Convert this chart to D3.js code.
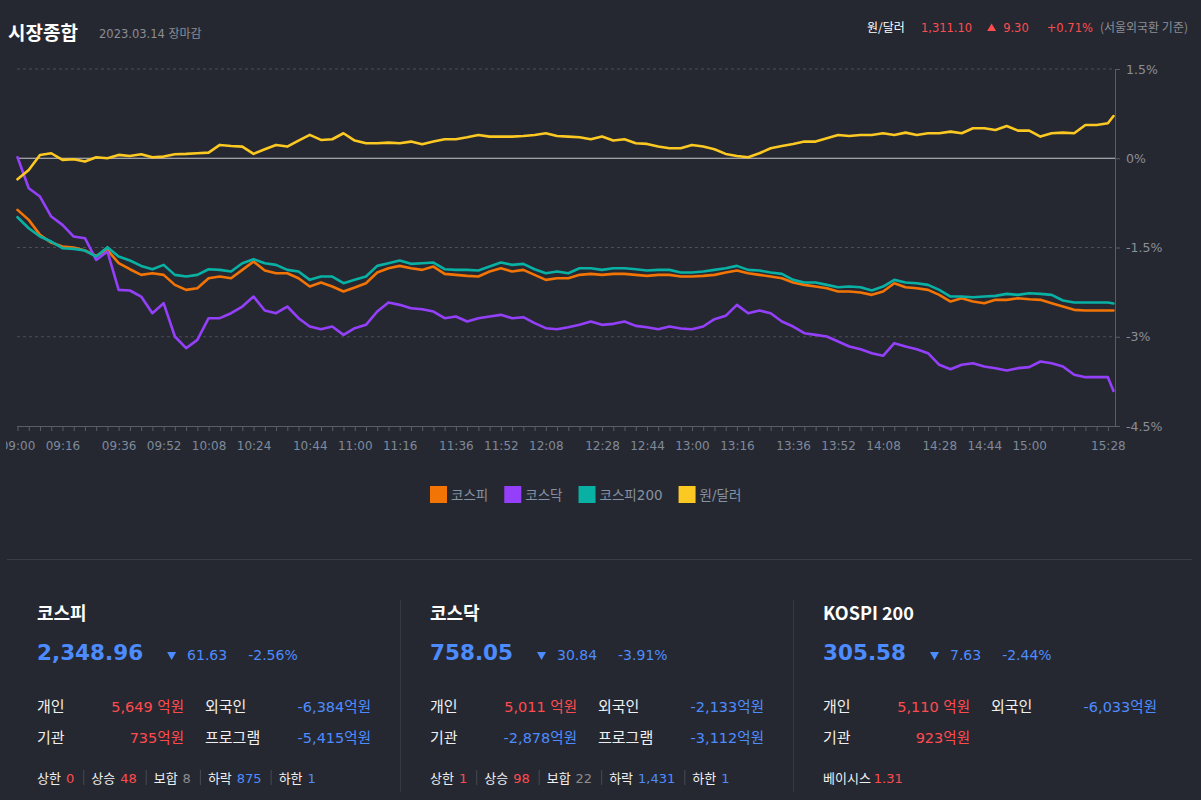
<!DOCTYPE html>
<html><head><meta charset="utf-8">
<script src="https://cdn.jsdelivr.net/npm/d3@7"></script>
<style>
html,body{margin:0;padding:0;background:#262831;}
svg{display:block}
text{font-family:'DejaVu Sans','Noto Sans CJK KR',sans-serif;}
.kr{font-family:'Noto Sans CJK KR',sans-serif;}
</style></head><body>
<svg id="c" width="1201" height="800"></svg>
<script>
// ---------- data ----------
const times = [
"09:00","09:04","09:08","09:12","09:16","09:20","09:24","09:28","09:32","09:36","09:40","09:44","09:48","09:52","09:56",
"10:00","10:04","10:08","10:12","10:16","10:20","10:24","10:28","10:32","10:36","10:40","10:44","10:48","10:52","10:56",
"11:00","11:04","11:08","11:12","11:16","11:20","11:24","11:28","11:32","11:36","11:40","11:44","11:48","11:52","11:56",
"12:00","12:04","12:08","12:12","12:16","12:20","12:24","12:28","12:32","12:36","12:40","12:44","12:48","12:52","12:56",
"13:00","13:04","13:08","13:12","13:16","13:20","13:24","13:28","13:32","13:36","13:40","13:44","13:48","13:52","13:56",
"14:00","14:04","14:08","14:12","14:16","14:20","14:24","14:28","14:32","14:36","14:40","14:44","14:48","14:52","14:56",
"15:00","15:04","15:08","15:12","15:16","15:20","15:24","15:28","15:30"];

const kospi = [-0.868,-1.036,-1.288,-1.417,-1.484,-1.501,-1.551,-1.641,-1.54,-1.764,-1.865,-1.96,-1.932,-1.96,-2.128,-2.212,-2.184,-2.016,-1.988,-2.016,-1.876,-1.736,-1.887,-1.932,-1.932,-2.016,-2.156,-2.089,-2.156,-2.24,-2.173,-2.1,-1.921,
-1.848,-1.809,-1.848,-1.876,-1.82,-1.943,-1.96,-1.977,-1.988,-1.904,-1.848,-1.904,-1.876,-1.96,-2.044,-2.016,-2.016,-1.96,-1.943,-1.96,-1.943,-1.943,-1.96,-1.977,-1.96,-1.96,-1.988,-1.988,-1.977,-1.96,-1.921,-1.887,-1.932,
-1.96,-1.988,-2.016,-2.089,-2.128,-2.156,-2.184,-2.24,-2.24,-2.257,-2.296,-2.24,-2.1,-2.167,-2.184,-2.212,-2.296,-2.408,-2.352,-2.408,-2.436,-2.38,-2.38,-2.352,-2.369,-2.38,-2.436,-2.492,-2.548,-2.559,-2.559,-2.559,-2.56];

const kosdaq = [0.017,-0.504,-0.644,-0.98,-1.12,-1.316,-1.344,-1.708,-1.568,-2.212,-2.223,-2.324,-2.604,-2.436,-2.996,-3.192,-3.052,-2.688,-2.688,-2.604,-2.492,-2.324,-2.559,-2.604,-2.492,-2.688,-2.828,-2.873,-2.828,-2.968,-2.856,-2.8,-2.576,
-2.425,-2.464,-2.52,-2.537,-2.576,-2.688,-2.66,-2.744,-2.688,-2.66,-2.632,-2.688,-2.671,-2.772,-2.856,-2.873,-2.839,-2.8,-2.744,-2.8,-2.783,-2.744,-2.817,-2.839,-2.873,-2.828,-2.862,-2.873,-2.828,-2.705,-2.649,-2.464,-2.604,
-2.559,-2.604,-2.744,-2.828,-2.94,-2.968,-2.996,-3.08,-3.164,-3.209,-3.276,-3.32,-3.108,-3.164,-3.209,-3.276,-3.472,-3.545,-3.472,-3.444,-3.5,-3.528,-3.567,-3.528,-3.511,-3.416,-3.444,-3.5,-3.64,-3.679,-3.679,-3.679,-3.91];

const kospi200 = [-0.991,-1.176,-1.316,-1.4,-1.512,-1.523,-1.551,-1.652,-1.495,-1.652,-1.719,-1.809,-1.865,-1.792,-1.96,-1.988,-1.96,-1.865,-1.876,-1.904,-1.764,-1.697,-1.764,-1.792,-1.876,-1.904,-2.044,-1.988,-1.988,-2.1,-2.044,-1.988,-1.809,
-1.764,-1.719,-1.775,-1.764,-1.753,-1.865,-1.876,-1.876,-1.887,-1.82,-1.753,-1.792,-1.775,-1.865,-1.932,-1.904,-1.932,-1.848,-1.848,-1.876,-1.848,-1.848,-1.865,-1.887,-1.876,-1.876,-1.921,-1.921,-1.904,-1.876,-1.848,-1.809,-1.876,
-1.887,-1.921,-1.943,-2.044,-2.089,-2.089,-2.128,-2.167,-2.156,-2.167,-2.223,-2.156,-2.044,-2.089,-2.1,-2.128,-2.212,-2.324,-2.324,-2.335,-2.324,-2.313,-2.279,-2.296,-2.268,-2.279,-2.296,-2.391,-2.425,-2.425,-2.425,-2.425,-2.44];

const usdkrw = [-0.353,-0.196,0.056,0.084,-0.028,-0.017,-0.056,0.017,0,0.056,0.039,0.067,0.017,0.028,0.067,0.073,0.084,0.095,0.224,0.207,0.196,0.073,0.151,0.224,0.196,0.297,0.392,0.308,0.319,0.42,0.297,0.252,0.252,
0.263,0.252,0.28,0.235,0.28,0.319,0.319,0.353,0.392,0.364,0.364,0.364,0.375,0.392,0.42,0.375,0.364,0.353,0.319,0.364,0.297,0.319,0.252,0.241,0.196,0.168,0.168,0.224,0.196,0.151,0.073,0.039,0.017,
0.084,0.168,0.207,0.241,0.28,0.28,0.336,0.392,0.375,0.392,0.392,0.42,0.392,0.431,0.392,0.42,0.42,0.448,0.42,0.504,0.504,0.476,0.543,0.465,0.465,0.364,0.42,0.431,0.42,0.56,0.56,0.588,0.71];

const xTickLabels = ["09:00","09:16","09:36","09:52","10:08","10:24","10:44","11:00","11:16","11:36","11:52","12:08","12:28","12:44","13:00","13:16","13:36","13:52","14:08","14:28","14:44","15:00","15:28"];
const yTicks = [1.5, 0, -1.5, -3, -4.5];

const seriesNames = ["코스피","코스닥","코스피200","원/달러"];
const seriesColors = ["#f27405","#9440fa","#08b1a4","#fcc822"];

const headerFx = {label:"원/달러", value:"1,311.10", change:"9.30", pct:"+0.71%", note:"(서울외국환 기준)"};

const panelTitles = ["코스피","코스닥","KOSPI 200"];
const panelValues = ["2,348.96","758.05","305.58"];
const panelChanges = ["61.63","30.84","7.63"];
const panelPcts = ["-2.56%","-3.91%","-2.44%"];
const panelRows = [
  [["개인","5,649 억원","up"],["외국인","-6,384억원","down"],["기관","735억원","up"],["프로그램","-5,415억원","down"]],
  [["개인","5,011 억원","up"],["외국인","-2,133억원","down"],["기관","-2,878억원","down"],["프로그램","-3,112억원","down"]],
  [["개인","5,110 억원","up"],["외국인","-6,033억원","down"],["기관","923억원","up"]]
];
const panelFoot = [
  [["상한","0","up"],["상승","48","up"],["보합","8","flat"],["하락","875","down"],["하한","1","down"]],
  [["상한","1","up"],["상승","98","up"],["보합","22","flat"],["하락","1,431","down"],["하한","1","down"]],
  [["베이시스","1.31","up"]]
];

// ---------- styles ----------
const RED = "#ff4b4e", BLUE = "#4d8cff", GRAY = "#8a8d95";
const tone = {up:RED, down:BLUE, flat:"#8d8d8d"};

const svg = d3.select("#c");
const toMin = t => { const [h,m] = t.split(":").map(Number); return (h-9)*60+m; };

const x = d3.scaleLinear().domain([0, 390]).range([17.5, 1113.5]);
const y = d3.scaleLinear().domain([-4.5, 1.5]).range([426, 69]);
const plotL = 17, plotR = 1115;

// header
svg.append("text").attr("class","kr").attr("x",8).attr("y",40).attr("font-size",19).attr("font-weight","bold").attr("fill","#fff").text("시장종합");
svg.append("text").attr("x",99).attr("y",38).attr("font-size",11.5).attr("fill",GRAY)
  .call(t=>{t.append("tspan").text("2023.03.14 "); t.append("tspan").attr("class","kr").attr("font-size",12).text("장마감");});

// header right (laid out sequentially, right aligned to 1188)
const hg = svg.append("g");
let hx = 0;
function hText(txt, cls, size, color, gapAfter){
  const t = hg.append("text").attr("x",hx).attr("y",31.5).attr("font-size",size).attr("fill",color).text(txt);
  if (cls) t.attr("class",cls);
  hx += t.node().getComputedTextLength() + gapAfter;
}
hText(headerFx.label,"kr",12,"#fff",16);
hText(headerFx.value,null,11.5,RED,15);
hg.append("path").attr("d",`M${hx},31 l4.5,-7.5 l4.5,7.5 z`).attr("fill",RED); hx += 16;
hText(headerFx.change,null,11.5,RED,18);
hText(headerFx.pct,null,11.5,RED,7);
hText(headerFx.note,"kr",12,GRAY,0);
hg.attr("transform",`translate(${1188-hx},0)`);

// grid
const grid = svg.append("g");
yTicks.forEach(v=>{
  if (v === -4.5) return;
  grid.append("line").attr("x1",plotL).attr("x2",plotR).attr("y1",y(v)).attr("y2",y(v))
    .attr("stroke", v===0 ? "#c8c8cc" : "#4b4e57").attr("stroke-width",1)
    .attr("stroke-dasharray", v===0 ? null : "3,3");
});

// bottom axis
const labelSet = new Set(xTickLabels.map(toMin));
svg.append("defs").append("clipPath").attr("id","xclip").append("rect").attr("x",6).attr("y",-6).attr("width",1190).attr("height",40);
const xAxis = d3.axisBottom(x)
  .tickValues(times.slice(0, times.length-1).map(toMin))
  .tickFormat(m => labelSet.has(m) ? times.find(t=>toMin(t)===m) : "")
  .tickSize(5).tickSizeOuter(0).tickPadding(10);
const gx = svg.append("g").attr("transform","translate(0,426)").attr("clip-path","url(#xclip)").call(xAxis);
gx.select(".domain").attr("d",`M${plotL},0.5H${plotR}`).attr("stroke","#5a5d66");
gx.selectAll(".tick line").attr("stroke","#5a5d66");
gx.selectAll(".tick text").attr("fill","#7e8a9b").attr("font-size",12).attr("font-family","'DejaVu Sans',sans-serif");

// right axis
const yAxis = d3.axisRight(y).tickValues(yTicks).tickFormat(d=>`${d}%`).tickSize(5).tickSizeOuter(0).tickPadding(6);
const gy = svg.append("g").attr("transform",`translate(${plotR},0)`).call(yAxis);
gy.select(".domain").attr("stroke","#5a5d66");
gy.selectAll(".tick line").attr("stroke","#5a5d66");
gy.selectAll(".tick text").attr("fill","#8a8f98").attr("font-size",12.5).attr("font-family","'DejaVu Sans',sans-serif");

// lines
const series = [kospi, kosdaq, kospi200, usdkrw];
const line = d3.line().x((d,i)=>x(toMin(times[i]))).y(d=>y(d));
series.forEach((s,i)=>{
  svg.append("path").datum(s).attr("d",line).attr("fill","none")
    .attr("stroke",seriesColors[i]).attr("stroke-width",2.6).attr("stroke-linejoin","round").attr("stroke-linecap","round");
});

// legend
const lg = svg.append("g");
let lx = 0;
seriesNames.forEach((n,i)=>{
  lg.append("rect").attr("x",lx).attr("y",486).attr("width",17).attr("height",17).attr("fill",seriesColors[i]);
  const t = lg.append("text").attr("x",lx+21).attr("y",500).attr("font-size",13.5).attr("fill","#8592a3").text(n);
  lx += 21 + t.node().getComputedTextLength() + 16;
});
lg.attr("transform",`translate(430,0)`);

// separator
svg.append("line").attr("x1",7).attr("x2",1192).attr("y1",559.5).attr("y2",559.5).attr("stroke","#3a3d46");
[400.5, 793.5].forEach(px=>svg.append("line").attr("x1",px).attr("x2",px).attr("y1",600).attr("y2",792).attr("stroke","#363942"));

// panels
const panelX = [37, 430, 823];
panelTitles.forEach((title,i)=>{
  const g = svg.append("g").attr("transform",`translate(${panelX[i]},0)`);
  g.append("text").attr("class","kr").attr("x",0).attr("y",620).attr("font-size",18).attr("font-weight","bold").attr("fill","#fff").text(title);
  const v = g.append("text").attr("x",0).attr("y",660).attr("font-size",21.5).attr("font-weight","bold").attr("fill",BLUE).text(panelValues[i]);
  const vw = v.node().getComputedTextLength();
  g.append("path").attr("d",`M${vw+24},652 h9 l-4.5,8 z`).attr("fill",BLUE);
  const c = g.append("text").attr("x",vw+44).attr("y",660).attr("font-size",14).attr("fill",BLUE).text(panelChanges[i]);
  const cw = c.node().getComputedTextLength();
  g.append("text").attr("x",vw+44+cw+21).attr("y",660).attr("font-size",14).attr("fill",BLUE).text(panelPcts[i]);

  const slots = [[0,147,712],[168,334,712],[0,147,743],[168,334,743]];
  panelRows[i].forEach((r,j)=>{
    const [lx0, rx, yy] = slots[j];
    g.append("text").attr("class","kr").attr("x",lx0).attr("y",yy).attr("font-size",15).attr("fill","#f0f0f0").text(r[0]);
    g.append("text").attr("x",rx).attr("y",yy).attr("text-anchor","end").attr("font-size",14.5).attr("fill",tone[r[2]]).text(r[1]);
  });

  let fx = 0;
  panelFoot[i].forEach((f,j)=>{
    if (j>0){
      g.append("line").attr("x1",fx+0.5).attr("x2",fx+0.5).attr("y1",770).attr("y2",785).attr("stroke","#464952");
      fx += 8;
    }
    const a = g.append("text").attr("class","kr").attr("x",fx).attr("y",783).attr("font-size",13).attr("fill","#f0f0f0").text(f[0]);
    fx += a.node().getComputedTextLength() + (panelFoot[i].length===1 ? 3 : 5);
    const b = g.append("text").attr("x",fx).attr("y",783).attr("font-size",13).attr("fill",tone[f[2]]).text(f[1]);
    fx += b.node().getComputedTextLength() + 9;
  });
});
</script>
</body></html>
